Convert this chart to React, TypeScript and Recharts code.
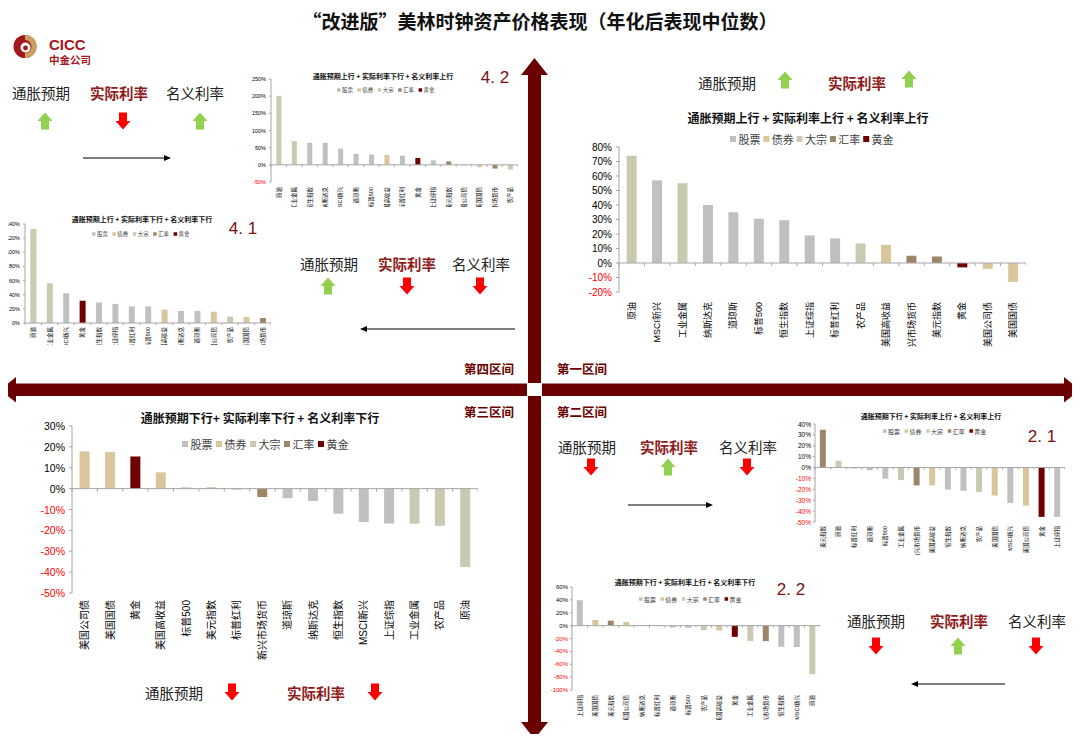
import React from "react";
import { BarChart, Bar, Cell, XAxis, YAxis, ReferenceLine } from "recharts";

const CJK = '"Noto Sans CJK SC", "Noto Sans", sans-serif';
const LAT = '"Liberation Sans", Arial, "Noto Sans CJK SC", sans-serif';
const AX = "#6b0000";
const RED_TXT = "#8e1b1b";

const COLORS: Record<string, string> = {
  股票: "#c0c0c0",
  债券: "#dac69c",
  大宗: "#cac9b2",
  汇率: "#9d8567",
  黄金: "#6e0000",
};
const legendNames = ["股票", "债券", "大宗", "汇率", "黄金"];

// 第一区间: 通胀预期上行 + 实际利率上行 + 名义利率上行
const q1Names = ["原油", "MSCI新兴", "工业金属", "纳斯达克", "道琼斯", "标普500", "恒生指数", "上证综指", "标普红利", "农产品", "美国高收益", "新兴市场货币", "美元指数", "黄金", "美国公司债", "美国国债"];
const q1Values = [74, 57, 55, 40, 35, 30.5, 29.5, 19, 17, 13.5, 12.5, 5, 4.5, -3, -4, -13];
const q1Kinds = ["大宗", "股票", "大宗", "股票", "股票", "股票", "股票", "股票", "股票", "大宗", "债券", "汇率", "汇率", "黄金", "债券", "债券"];
const q1Ticks = [-20, -10, 0, 10, 20, 30, 40, 50, 60, 70, 80];

// 第三区间: 通胀预期下行 + 实际利率下行 + 名义利率下行
const q3Names = ["美国公司债", "美国国债", "黄金", "美国高收益", "标普500", "美元指数", "标普红利", "新兴市场货币", "道琼斯", "纳斯达克", "恒生指数", "MSCI新兴", "上证综指", "工业金属", "农产品", "原油"];
const q3Values = [17.8, 17.5, 15.4, 7.8, 0.6, 0.5, -0.5, -4, -4.6, -5.9, -12, -16, -16.7, -16.8, -17.8, -37.6];
const q3Kinds = ["债券", "债券", "黄金", "债券", "股票", "汇率", "股票", "汇率", "股票", "股票", "股票", "股票", "股票", "大宗", "大宗", "大宗"];
const q3Ticks = [-50, -40, -30, -20, -10, 0, 10, 20, 30];

// 4.2: 通胀预期上行 + 实际利率下行 + 名义利率上行
const c42Names = ["原油", "工业金属", "恒生指数", "纳斯达克", "MSCI新兴", "道琼斯", "标普500", "美国高收益", "标普红利", "黄金", "上证综指", "美元指数", "美国公司债", "美国国债", "新兴市场货币", "农产品"];
const c42Values = [201, 69, 64, 64, 47, 32, 30, 29, 27, 20, 13, 10, -2, -7, -11, -14];
const c42Kinds = ["大宗", "大宗", "股票", "股票", "股票", "股票", "股票", "债券", "股票", "黄金", "股票", "汇率", "债券", "债券", "汇率", "大宗"];
const c42Ticks = [-50, 0, 50, 100, 150, 200, 250];

// 4.1: 通胀预期上行 + 实际利率下行 + 名义利率下行
const c41Names = ["原油", "工业金属", "MSCI新兴", "黄金", "恒生指数", "上证综指", "标普红利", "标普500", "美国高收益", "纳斯达克", "道琼斯", "美国公司债", "农产品", "美国国债", "新兴市场货币"];
const c41Values = [133, 56, 42, 31.5, 29, 27, 23.5, 23.5, 19, 17, 17, 16, 9, 8.5, 7];
const c41Kinds = ["大宗", "大宗", "股票", "黄金", "股票", "股票", "股票", "股票", "债券", "股票", "股票", "债券", "大宗", "债券", "汇率"];
const c41Ticks = [0, 20, 40, 60, 80, 100, 120, 140];

// 2.1: 通胀预期下行 + 实际利率上行 + 名义利率上行
const c21Names = ["美元指数", "原油", "标普红利", "道琼斯", "标普500", "工业金属", "新兴市场货币", "美国高收益", "恒生指数", "纳斯达克", "农产品", "美国国债", "MSCI新兴", "美国公司债", "黄金", "上证综指"];
const c21Values = [34.7, 6.2, -0.9, -2.5, -10.2, -11.5, -16.4, -16.4, -20.2, -21.4, -22.6, -25.7, -32.6, -35, -45.3, -45.3];
const c21Kinds = ["汇率", "大宗", "股票", "股票", "股票", "大宗", "汇率", "债券", "股票", "股票", "大宗", "债券", "股票", "债券", "黄金", "股票"];
const c21Ticks = [-50, -40, -30, -20, -10, 0, 10, 20, 30, 40];

// 2.2: 通胀预期下行 + 实际利率上行 + 名义利率下行
const c22Names = ["上证综指", "美国国债", "美元指数", "美国公司债", "纳斯达克", "标普红利", "道琼斯", "标普500", "农产品", "美国高收益", "黄金", "工业金属", "新兴市场货币", "恒生指数", "MSCI新兴", "原油"];
const c22Values = [39.5, 8.7, 7.7, 5.6, -0.5, -1, -3, -3.6, -7.2, -7.7, -17.4, -24, -24, -32.8, -33.3, -75.4];
const c22Kinds = ["股票", "债券", "汇率", "债券", "股票", "股票", "股票", "股票", "大宗", "债券", "黄金", "大宗", "汇率", "股票", "股票", "大宗"];
const c22Ticks = [-100, -80, -60, -40, -20, 0, 20, 40, 60];

function XLabel(props: any) {
  const { x, y, payload, font, gap } = props;
  return (
    <text
      transform={`translate(${x},${y + gap}) rotate(-90)`}
      textAnchor="end"
      dominantBaseline="central"
      fontSize={font}
      fontFamily={LAT}
      fill="#000"
    >
      {payload.value}
    </text>
  );
}

function YLabel(props: any) {
  const { x, y, payload, font } = props;
  const v = payload.value;
  return (
    <text x={x} y={y} textAnchor="end" dominantBaseline="central" fontSize={font} fontFamily={LAT} fill={v < 0 ? "#ff0000" : "#000"}>
      {`${v}%`}
    </text>
  );
}

function ZeroLine(props: any) {
  const { x1, x2, y1, n, len } = props;
  if (x1 == null || x2 == null || y1 == null) return null;
  const step = (x2 - x1) / n;
  return (
    <g>
      <line x1={x1} y1={y1} x2={x2} y2={y1} stroke="#a6a6a6" strokeWidth={1} />
      {Array.from({ length: n + 1 }, (_, i) => (
        <line key={i} x1={x1 + i * step} x2={x1 + i * step} y1={y1} y2={y1 + len} stroke="#a6a6a6" strokeWidth={1} />
      ))}
    </g>
  );
}

type PanelProps = {
  names: string[];
  values: number[];
  kinds: string[];
  ticks: number[];
  left: number;
  top: number;
  width: number;
  height: number;
  marginTop: number;
  yWidth: number;
  xHeight: number;
  yFont: number;
  xFont: number;
  labelGap: number;
  gap: string;
  tick: number;
  tickGap: number;
};

function Panel(p: PanelProps) {
  const data = p.names.map((name, i) => ({ name, value: p.values[i], kind: p.kinds[i] }));
  const n = data.length;
  return (
    <div style={{ position: "absolute", left: p.left, top: p.top }}>
      <BarChart
        width={p.width}
        height={p.height}
        data={data}
        margin={{ top: p.marginTop, right: 0, bottom: 0, left: 0 }}
        barCategoryGap={p.gap}
      >
        <XAxis
          dataKey="name"
          type="category"
          interval={0}
          axisLine={false}
          tickLine={false}
          tickSize={0}
          tickMargin={0}
          height={p.xHeight}
          tick={(t: any) => <XLabel {...t} font={p.xFont} gap={p.labelGap} />}
        />
        <YAxis
          type="number"
          domain={[p.ticks[0], p.ticks[p.ticks.length - 1]]}
          ticks={p.ticks}
          interval={0}
          width={p.yWidth}
          axisLine={{ stroke: "#a6a6a6" }}
          tickLine={{ stroke: "#a6a6a6" }}
          tickSize={p.tick}
          tickMargin={p.tickGap}
          tick={(t: any) => <YLabel {...t} font={p.yFont} />}
        />
        <Bar dataKey="value" isAnimationActive={false}>
          {data.map((d, i) => (
            <Cell key={i} fill={COLORS[d.kind]} />
          ))}
        </Bar>
        <ReferenceLine y={0} shape={(s: any) => <ZeroLine {...s} n={n} len={p.tick} />} />
      </BarChart>
    </div>
  );
}

function Legend({ x0, cy, step, sq, font }: { x0: number; cy: number; step: number; sq: number; font: number }) {
  return (
    <g>
      {legendNames.map((name, i) => (
        <g key={name}>
          <rect x={x0 + i * step} y={cy - sq / 2} width={sq} height={sq} fill={COLORS[name]} />
          <text x={x0 + i * step + sq + sq * 0.4} y={cy} dominantBaseline="central" fontSize={font} fontFamily={CJK} fill="#404040">
            {name}
          </text>
        </g>
      ))}
    </g>
  );
}

function BlockArrow({ cx, cy, up }: { cx: number; cy: number; up: boolean }) {
  const w = 15;
  const h = 17;
  const s = 4;
  const pts = up
    ? [[0, -h / 2], [w / 2, 0], [s, 0], [s, h / 2], [-s, h / 2], [-s, 0], [-w / 2, 0]]
    : [[0, h / 2], [w / 2, 0], [s, 0], [s, -h / 2], [-s, -h / 2], [-s, 0], [-w / 2, 0]];
  return <polygon points={pts.map(([x, y]) => `${cx + x},${cy + y}`).join(" ")} fill={up ? "#92d050" : "#ff0000"} />;
}

function LineArrow({ x1, x2, y }: { x1: number; x2: number; y: number }) {
  const d = x2 > x1 ? 1 : -1;
  return (
    <g>
      <line x1={x1} y1={y} x2={x2 - d * 5} y2={y} stroke="#000" strokeWidth={1.2} />
      <polygon points={`${x2},${y} ${x2 - d * 7},${y - 3} ${x2 - d * 7},${y + 3}`} fill="#000" />
    </g>
  );
}

function Word({ x, y, t, bold }: { x: number; y: number; t: string; bold?: boolean }) {
  return (
    <text x={x} y={y} textAnchor="middle" dominantBaseline="central" fontSize={14.5} fontFamily={CJK} fontWeight={bold ? 700 : 400} fill={bold ? RED_TXT : "#222"}>
      {t}
    </text>
  );
}

function Title({ x, y, t, size }: { x: number; y: number; t: string; size: number }) {
  return (
    <text x={x} y={y} textAnchor="middle" dominantBaseline="central" fontSize={size} fontFamily={CJK} fontWeight={700} fill="#111">
      {t}
    </text>
  );
}

function Tag({ x, y, t }: { x: number; y: number; t: string }) {
  return (
    <text x={x} y={y} textAnchor="middle" dominantBaseline="central" fontSize={17} fontFamily={LAT} fill="#7b1113">
      {t}
    </text>
  );
}

function Zone({ x, y, t }: { x: number; y: number; t: string }) {
  return (
    <text x={x} y={y} textAnchor="middle" dominantBaseline="central" fontSize={12.5} fontFamily={CJK} fontWeight={700} fill={AX}>
      {t}
    </text>
  );
}

export default function App() {
  return (
    <div style={{ position: "relative", width: 1080, height: 742, margin: -8, background: "#fff", overflow: "hidden", fontFamily: CJK }}>
      <Panel names={q1Names} values={q1Values} kinds={q1Kinds} ticks={q1Ticks}
        left={560} top={140} width={466} height={207} marginTop={7} yWidth={59} xHeight={55}
        yFont={10} xFont={9} labelGap={10} gap="30%" tick={3} tickGap={4} />
      <Panel names={q3Names} values={q3Values} kinds={q3Kinds} ticks={q3Ticks}
        left={20} top={419} width={458} height={261} marginTop={7} yWidth={52} xHeight={87}
        yFont={10.5} xFont={10} labelGap={7} gap="30%" tick={3} tickGap={4} />
      <Panel names={c42Names} values={c42Values} kinds={c42Kinds} ticks={c42Ticks}
        left={240} top={74} width={278} height={133} marginTop={5} yWidth={31} xHeight={25}
        yFont={5.5} xFont={5.5} labelGap={5} gap="35%" tick={2} tickGap={3} />
      <Panel names={c41Names} values={c41Values} kinds={c41Kinds} ticks={c41Ticks}
        left={0} top={219} width={271} height={126} marginTop={5} yWidth={25} xHeight={22}
        yFont={5.5} xFont={5.5} labelGap={4} gap="33%" tick={2} tickGap={3} />
      <Panel names={c21Names} values={c21Values} kinds={c21Kinds} ticks={c21Ticks}
        left={775} top={419} width={290} height={136} marginTop={5} yWidth={40} xHeight={33}
        yFont={6.5} xFont={5.5} labelGap={4} gap="31%" tick={2} tickGap={2} />
      <Panel names={c22Names} values={c22Values} kinds={c22Kinds} ticks={c22Ticks}
        left={540} top={582} width={280} height={138} marginTop={5} yWidth={32} xHeight={30}
        yFont={6} xFont={5.5} labelGap={5} gap="31%" tick={2} tickGap={2} />

      <svg width={1080} height={742} style={{ position: "absolute", left: 0, top: 0, pointerEvents: "none" }}>
        {/* main title */}
        <Title x={540} y={20} t="“改进版”美林时钟资产价格表现（年化后表现中位数）" size={19} />

        {/* logo */}
        <g>
          <circle cx={25} cy={46.5} r={11.5} fill="#a3171d" />
          <path d="M25,35 A11.5,11.5 0 0 1 25,58 L25,53 A6.5,6.5 0 0 0 25,40 Z" fill="#c9a062" />
          <circle cx={25.5} cy={47.5} r={5} fill="#fff" />
          <circle cx={25.5} cy={48} r={2.4} fill="#a3171d" />
          <text x={49} y={50} fontSize={15} fontWeight={700} fontFamily={LAT} fill="#a3171d">CICC</text>
          <text x={49} y={64} fontSize={10.5} fontWeight={700} fontFamily={CJK} fill="#a3171d">中金公司</text>
        </g>

        {/* quadrant axes */}
        <g fill={AX}>
          <rect x={528} y={72} width={13} height={311} />
          <rect x={528} y={396} width={13} height={328} />
          <polygon points="534.5,58 521,75 548,75" />
          <polygon points="534.5,739 521,722 548,722" />
          <rect x={14} y={383.5} width={513} height={12.5} />
          <rect x={542} y={383.5} width={524} height={12.5} />
          <polygon points="0,389.75 16,377 16,402.5" />
          <polygon points="1080,389.75 1064,377 1064,402.5" />
        </g>
        <Zone x={489} y={368} t="第四区间" />
        <Zone x={582} y={368} t="第一区间" />
        <Zone x={489} y={411} t="第三区间" />
        <Zone x={582} y={411} t="第二区间" />

        {/* chart titles, legends, tags */}
        <Title x={808} y={117} t="通胀预期上行 + 实际利率上行 + 名义利率上行" size={12} />
        <Legend x0={730} cy={139} step={33.3} sq={6} font={11} />
        <Title x={260} y={417} t="通胀预期下行+ 实际利率下行 + 名义利率下行" size={12} />
        <Legend x0={182} cy={444} step={34} sq={6} font={11} />

        <Title x={383} y={76} t="通胀预期上行 + 实际利率下行 + 名义利率上行" size={7} />
        <Legend x0={337} cy={90} step={20.4} sq={3.5} font={5.5} />
        <Tag x={495} y={77} t="4. 2" />

        <Title x={142} y={219} t="通胀预期上行 + 实际利率下行 + 名义利率下行" size={7} />
        <Legend x0={92} cy={234} step={20.4} sq={3.5} font={5.5} />
        <Tag x={243} y={228} t="4. 1" />

        <Title x={931} y={416} t="通胀预期下行 + 实际利率上行 + 名义利率上行" size={7} />
        <Legend x0={883} cy={431} step={21.6} sq={3.5} font={6} />
        <Tag x={1042} y={436} t="2. 1" />

        <Title x={685} y={582} t="通胀预期下行 + 实际利率上行 + 名义利率下行" size={7} />
        <Legend x0={639} cy={599} step={21.4} sq={3.5} font={6} />
        <Tag x={791} y={589} t="2. 2" />

        {/* top-left group */}
        <Word x={41} y={92} t="通胀预期" />
        <Word x={119} y={92} t="实际利率" bold />
        <Word x={195} y={92} t="名义利率" />
        <BlockArrow cx={45} cy={121} up />
        <BlockArrow cx={123} cy={121} up={false} />
        <BlockArrow cx={200} cy={121} up />
        <LineArrow x1={83} x2={171} y={158} />

        {/* middle-left group */}
        <Word x={329} y={263} t="通胀预期" />
        <Word x={407} y={263} t="实际利率" bold />
        <Word x={481} y={263} t="名义利率" />
        <BlockArrow cx={328} cy={286} up />
        <BlockArrow cx={407} cy={286} up={false} />
        <BlockArrow cx={480} cy={286} up={false} />
        <LineArrow x1={515} x2={360} y={329} />

        {/* first quadrant group */}
        <Word x={727} y={82} t="通胀预期" />
        <BlockArrow cx={785} cy={80} up />
        <Word x={857} y={82} t="实际利率" bold />
        <BlockArrow cx={909} cy={79} up />

        {/* second quadrant group */}
        <Word x={587} y={446} t="通胀预期" />
        <Word x={669} y={446} t="实际利率" bold />
        <Word x={748} y={446} t="名义利率" />
        <BlockArrow cx={591} cy={467} up={false} />
        <BlockArrow cx={668} cy={467} up />
        <BlockArrow cx={747} cy={467} up={false} />
        <LineArrow x1={628} x2={713} y={505} />

        {/* lower-right group */}
        <Word x={876} y={620} t="通胀预期" />
        <Word x={959} y={620} t="实际利率" bold />
        <Word x={1037} y={620} t="名义利率" />
        <BlockArrow cx={876} cy={646} up={false} />
        <BlockArrow cx={958} cy={646} up />
        <BlockArrow cx={1036} cy={646} up={false} />
        <LineArrow x1={1005} x2={911} y={684} />

        {/* third quadrant bottom */}
        <Word x={174} y={692} t="通胀预期" />
        <BlockArrow cx={232} cy={692} up={false} />
        <Word x={316} y={692} t="实际利率" bold />
        <BlockArrow cx={375} cy={692} up={false} />
      </svg>
    </div>
  );
}
